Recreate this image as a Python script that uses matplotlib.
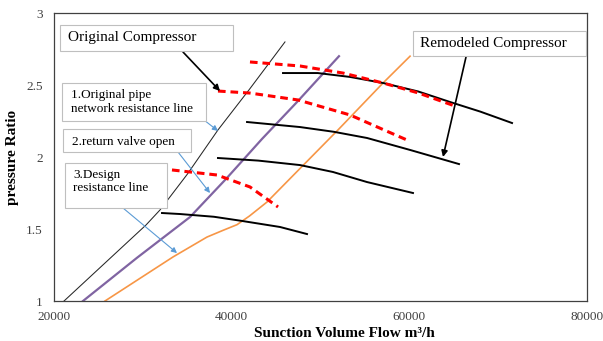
import matplotlib
matplotlib.use('Agg')
import matplotlib.pyplot as plt
from matplotlib.patches import Rectangle

plt.rcParams['font.family'] = ['Liberation Serif', 'DejaVu Serif']

# resistance lines
pipe_x = [21130, 30360, 31930, 35000, 38460, 42000, 46000]
pipe_y = [1.0, 1.528, 1.632, 1.88, 2.188, 2.47, 2.799]
valve_x = [23265, 29340, 35310, 39400, 43410, 47360, 52080]
valve_y = [1.0, 1.30, 1.583, 1.85, 2.125, 2.382, 2.70]
design_x = [25740, 33400, 37220, 39000, 40600, 42000, 43980, 47690, 51970, 57040, 60080]
design_y = [1.0, 1.306, 1.444, 1.49, 1.53, 1.59, 1.6875, 1.92, 2.188, 2.514, 2.70]

# remodeled compressor curves
comp1_x = [45780, 49690, 53320, 57040, 61000, 64580, 68000, 71560]
comp1_y = [2.583, 2.583, 2.556, 2.514, 2.455, 2.382, 2.315, 2.236]
comp2_x = [41730, 47690, 51500, 55240, 60080, 65590]
comp2_y = [2.243, 2.208, 2.175, 2.132, 2.049, 1.951]
comp3_x = [38460, 43000, 47690, 51400, 55240, 60410]
comp3_y = [1.993, 1.975, 1.944, 1.896, 1.826, 1.750]
comp4_x = [32160, 34180, 38000, 41160, 45440, 48480]
comp4_y = [1.611, 1.604, 1.585, 1.556, 1.514, 1.465]

# original compressor curves (dashed)
orig1_x = [42060, 47690, 52530, 57040, 61000, 65140]
orig1_y = [2.660, 2.632, 2.583, 2.514, 2.445, 2.354]
orig2_x = [38460, 42060, 47470, 53320, 56700, 59740]
orig2_y = [2.458, 2.444, 2.396, 2.292, 2.200, 2.118]
orig3_x = [33280, 38350, 42060, 45220]
orig3_y = [1.910, 1.875, 1.792, 1.653]

W, H = 603, 341
fig = plt.figure(figsize=(W / 100, H / 100), dpi=100)
ax = fig.add_axes([54 / W, 1 - 301 / H, 533 / W, 288 / H])

def fp(x, y):
    # pixel (from top-left) -> figure fraction
    return (x / W, 1 - y / H)

ax.plot(pipe_x, pipe_y, color='#262626', lw=0.75)
ax.plot(valve_x, valve_y, color='#8064A2', lw=1.6)
ax.plot(design_x, design_y, color='#F79646', lw=1.2)

for cx, cy in [(comp1_x, comp1_y), (comp2_x, comp2_y), (comp3_x, comp3_y), (comp4_x, comp4_y)]:
    ax.plot(cx, cy, color='black', lw=1.4)
for cx, cy in [(orig1_x, orig1_y), (orig2_x, orig2_y), (orig3_x, orig3_y)]:
    ax.plot(cx, cy, color='#FF0000', lw=2.2, linestyle=(0, (2.5, 1.6)))

ax.set_xlim(20000, 80000)
ax.set_ylim(1, 3)
ax.set_xticks([20000, 40000, 60000, 80000])
ax.set_yticks([1, 1.5, 2, 2.5, 3])
ax.set_yticklabels(['1', '1.5', '2', '2.5', '3'])
ax.tick_params(length=0, labelsize=9.5, colors='#404040')
ax.tick_params(axis='y', pad=8)
ax.tick_params(axis='x', pad=7.5)
for s in ax.spines.values():
    s.set_color('#404040')
    s.set_linewidth(0.9)

fig.text(*fp(344, 337), 'Sunction Volume Flow m³/h', ha='center', va='baseline',
         fontsize=11, fontweight='bold')
fig.text(*fp(13, 157), 'pressure Ratio', ha='center', va='center', rotation=90,
         fontsize=11, fontweight='bold')

# text boxes
boxes = [(60, 25, 233, 51), (413, 31, 586, 56), (62, 83, 206, 121),
         (63, 129, 191, 152), (65, 163, 167, 208)]
for x0, y0, x1, y1 in boxes:
    fig.add_artist(Rectangle(fp(x0, y1), (x1 - x0) / W, (y1 - y0) / H,
                             transform=fig.transFigure, facecolor='white',
                             edgecolor='#bfbfbf', lw=0.8, zorder=2))

fig.text(*fp(68, 38), 'Original Compressor', fontsize=11, va='center', zorder=3)
fig.text(*fp(420, 43), 'Remodeled Compressor', fontsize=11, va='center', zorder=3)
fig.text(*fp(71, 95), '1.Original pipe', fontsize=9.5, va='center', zorder=3)
fig.text(*fp(71, 109), 'network resistance line', fontsize=9.5, va='center', zorder=3)
fig.text(*fp(72, 142), '2.return valve open', fontsize=9.5, va='center', zorder=3)
fig.text(*fp(73, 175), '3.Design', fontsize=9.5, va='center', zorder=3)
fig.text(*fp(73, 188), 'resistance line', fontsize=9.5, va='center', zorder=3)

# arrows
ax.annotate('', xy=(38687, 2.458), xytext=fp(183, 52), textcoords='figure fraction',
            arrowprops=dict(arrowstyle='-|>', color='black', lw=1.2,
                            mutation_scale=9, shrinkA=0, shrinkB=0))
ax.annotate('', xy=(63790, 2.0), xytext=fp(466, 57), textcoords='figure fraction',
            arrowprops=dict(arrowstyle='-|>', color='black', lw=1.2,
                            mutation_scale=9, shrinkA=0, shrinkB=0))
blue = '#5B9BD5'
for target, start in [((38461, 2.181), (204, 120)), ((37561, 1.75), (178, 152)),
                      ((33846, 1.333), (123, 208))]:
    ax.annotate('', xy=target, xytext=fp(*start), textcoords='figure fraction',
                arrowprops=dict(arrowstyle='-|>', color=blue, lw=0.8,
                                mutation_scale=8, shrinkA=0, shrinkB=0))

fig.savefig('out.png', dpi=100)
